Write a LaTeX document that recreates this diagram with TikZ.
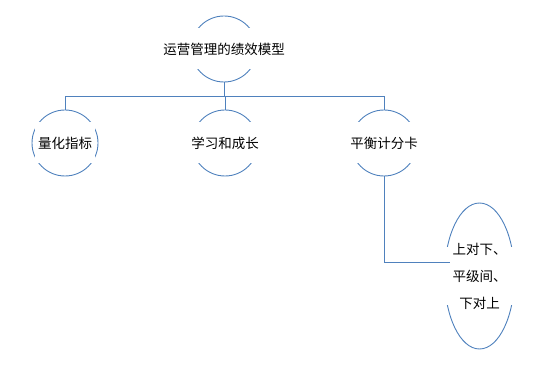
\documentclass[tikz,border=0pt]{standalone}
\usepackage{fontspec}
\setmainfont{Noto Sans CJK SC}
\usepackage{xcolor}
\usepackage{tikz}
\usetikzlibrary{shapes.geometric}
\definecolor{lineblue}{RGB}{79,129,189}

\begin{document}
\begin{tikzpicture}[x=1pt, y=-1pt,
  ring/.style={draw=lineblue, line width=0.9pt, circle, minimum size=66pt, inner sep=0pt},
  mask/.style={fill=white, inner sep=0pt, minimum height=41pt, minimum width=60pt},
  link/.style={draw=lineblue, line width=0.9pt},
  lbl/.style={font=\fontsize{13.5}{27}\selectfont, inner sep=0pt}]

\useasboundingbox (0,0) rectangle (559,366);

% top: the model itself
\node[ring] (top) at (224,49) {};
\node[mask, lbl] (topT) at (top) {运营管理的绩效模型};

% three children on one row
\foreach \n/\x/\t in {qz/65/量化指标, xx/225/学习和成长, pf/384/平衡计分卡}{
  \node[ring] (\n) at (\x,143) {};
  \node[mask, lbl] (\n T) at (\n) {\t};
}

% the tall one below right
\node[draw=lineblue, line width=0.9pt, ellipse, minimum width=70pt,
      minimum height=146pt, inner sep=0pt] (pj) at (479.5,276) {};
\node[fill=white, minimum width=72pt, minimum height=58pt, inner sep=0pt] (pjBox) at (pj) {};
\node[lbl, align=center] (pjT) at (pj) {上对下、\\平级间、\\下对上};

% connectors
\coordinate (bus) at (224,96);
\draw[link] (top.south) -- (bus);
\foreach \n in {qz,xx,pf}
  \draw[link] (bus) -| (\n.north);
\coordinate (pjIn) at (450,262);
\draw[link] (pf.south) |- (pjIn);

\end{tikzpicture}
\end{document}
